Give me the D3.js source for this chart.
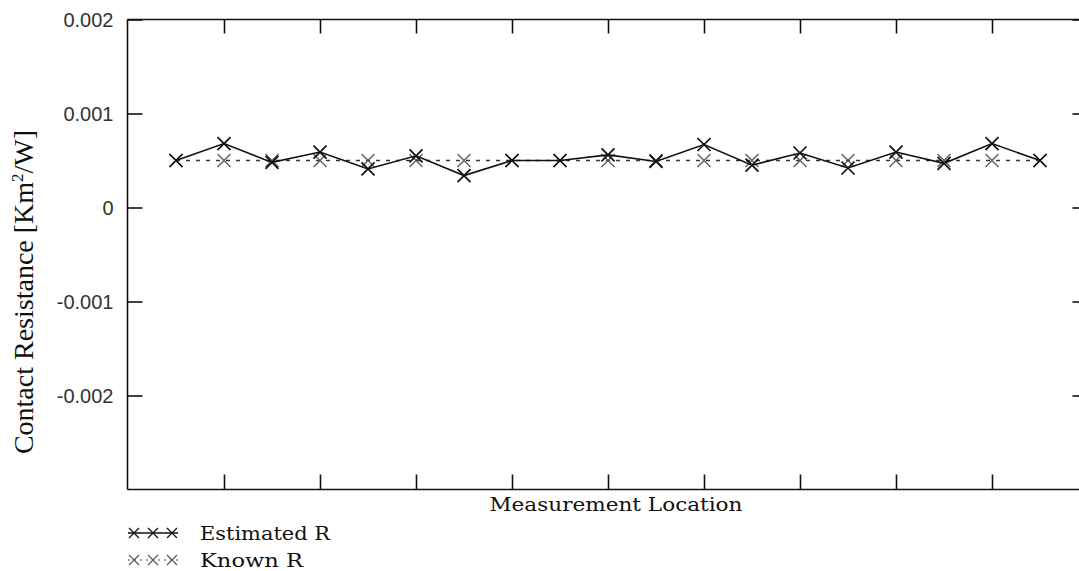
<!DOCTYPE html>
<html>
<head>
<meta charset="utf-8">
<script src="https://cdn.jsdelivr.net/npm/d3@7"></script>
<style>
  html, body { margin: 0; padding: 0; background: #fff; }
  svg { display: block; }
</style>
</head>
<body>
<svg id="chart" width="1079" height="571"></svg>
<script>
// ---- data ----
const locations = [1,2,3,4,5,6,7,8,9,10,11,12,13,14,15,16,17,18,19];
const estimatedR = [0.00050,0.00068,0.00048,0.00059,0.00041,0.00055,0.00034,0.00050,0.00050,0.00056,0.00049,0.00067,0.00045,0.00058,0.00042,0.00059,0.00047,0.00068,0.00050];
const knownR = [0.0005,0.0005,0.0005,0.0005,0.0005,0.0005,0.0005,0.0005,0.0005,0.0005,0.0005,0.0005,0.0005,0.0005,0.0005,0.0005,0.0005,0.0005,0.0005];
const yTicks = [-0.002,-0.001,0,0.001,0.002];
const xTicks = [2,4,6,8,10,12,14,16,18];
const seriesNames = ["Estimated R","Known R"];

(function(){
// ---- layout ----
const svg = d3.select("#chart");
const pL = 127.5, pR = 1087.5, pT = 19.5, pB = 489.5;
const x = d3.scaleLinear().domain([0,20]).range([pL+0.5, pR+0.5]);
const y = d3.scaleLinear().domain([-0.003,0.002]).range([pB, pT]);
const fmt = d => d === 0 ? "0" : d.toFixed(3);

// frame lines
const frame = svg.append("g").attr("stroke","#111").attr("stroke-width",1.6).attr("fill","none");
frame.append("line").attr("x1",pL).attr("x2",pL).attr("y1",pT).attr("y2",pB);
frame.append("line").attr("x1",pL).attr("x2",pR).attr("y1",pT).attr("y2",pT);
frame.append("line").attr("x1",pL).attr("x2",pR).attr("y1",pB).attr("y2",pB);
frame.append("line").attr("x1",pR).attr("x2",pR).attr("y1",pT).attr("y2",pB);

function styleAxis(g){
  g.select(".domain").remove();
  g.selectAll(".tick line").attr("stroke","#111").attr("stroke-width",1.6);
}

// left axis with labels
svg.append("g").attr("transform",`translate(${pL},0)`)
  .call(d3.axisLeft(y).tickValues(yTicks).tickFormat(fmt).tickSizeInner(-15).tickSizeOuter(0).tickPadding(14))
  .call(styleAxis)
  .call(g => g.selectAll(".tick text")
    .attr("font-family","'Liberation Sans', Arial, sans-serif")
    .attr("font-size","20px").attr("fill","#333").attr("dy","0.36em"));

// right axis ticks (no labels)
svg.append("g").attr("transform",`translate(${pR},0)`)
  .call(d3.axisRight(y).tickValues(yTicks).tickFormat("").tickSizeInner(-15).tickSizeOuter(0))
  .call(styleAxis);

// bottom ticks
svg.append("g").attr("transform",`translate(0,${pB})`)
  .call(d3.axisBottom(x).tickValues(xTicks).tickFormat("").tickSizeInner(-15).tickSizeOuter(0))
  .call(styleAxis);

// top ticks
svg.append("g").attr("transform",`translate(0,${pT})`)
  .call(d3.axisTop(x).tickValues(xTicks).tickFormat("").tickSizeInner(-14).tickSizeOuter(0))
  .call(styleAxis);

// y axis title
const yt = svg.append("text")
  .attr("transform","translate(33,292) rotate(-90)")
  .attr("text-anchor","middle")
  .attr("font-family","'Liberation Serif', 'Times New Roman', serif")
  .attr("font-size","28px").attr("fill","#111");
yt.append("tspan").text("Contact Resistance [Km");
yt.append("tspan").attr("font-size","17px").attr("dy","-10").text("2");
yt.append("tspan").attr("dy","10").text("/W]");

// x axis title
svg.append("text")
  .attr("x",616).attr("y",511)
  .attr("text-anchor","middle")
  .attr("font-family","'DejaVu Serif', serif")
  .attr("font-size","19px").attr("fill","#111")
  .attr("textLength",253).attr("lengthAdjust","spacingAndGlyphs")
  .text("Measurement Location");

// ---- series ----
const line = d3.line().x((d,i) => x(locations[i])).y(d => y(d));

function cross(g, cx, cy, s, color, w){
  g.append("path")
    .attr("d",`M${cx-s},${cy-s}L${cx+s},${cy+s}M${cx-s},${cy+s}L${cx+s},${cy-s}`)
    .attr("stroke",color).attr("stroke-width",w).attr("fill","none");
}

// known (dashed)
const gk = svg.append("g");
gk.append("path").datum(knownR).attr("d",line)
  .attr("fill","none").attr("stroke","#333").attr("stroke-width",1.5).attr("stroke-dasharray","4,6");
knownR.forEach((v,i) => cross(gk, x(locations[i]), y(v), 6.5, "#555", 1.2));

// estimated (solid)
const ge = svg.append("g");
ge.append("path").datum(estimatedR).attr("d",line)
  .attr("fill","none").attr("stroke","#111").attr("stroke-width",1.6);
estimatedR.forEach((v,i) => cross(ge, x(locations[i]), y(v), 6.5, "#111", 1.7));

// ---- legend ----
const lg = svg.append("g");
lg.append("line").attr("x1",128).attr("x2",178).attr("y1",533).attr("y2",533)
  .attr("stroke","#111").attr("stroke-width",1.3);
[134,153,172].forEach(cx => cross(lg, cx, 533, 5, "#111", 1.3));
lg.append("line").attr("x1",128).attr("x2",178).attr("y1",560).attr("y2",560)
  .attr("stroke","#444").attr("stroke-width",1.1).attr("stroke-dasharray","2,4");
[134,153,172].forEach(cx => cross(lg, cx, 560, 5, "#555", 1.1));

lg.append("text").attr("x",200).attr("y",540)
  .attr("font-family","'DejaVu Serif', serif").attr("font-size","19px").attr("fill","#111")
  .attr("textLength",130).attr("lengthAdjust","spacingAndGlyphs")
  .text(seriesNames[0]);
lg.append("text").attr("x",200).attr("y",567)
  .attr("font-family","'DejaVu Serif', serif").attr("font-size","19px").attr("fill","#111")
  .attr("textLength",103).attr("lengthAdjust","spacingAndGlyphs")
  .text(seriesNames[1]);
})();
</script>
</body>
</html>
